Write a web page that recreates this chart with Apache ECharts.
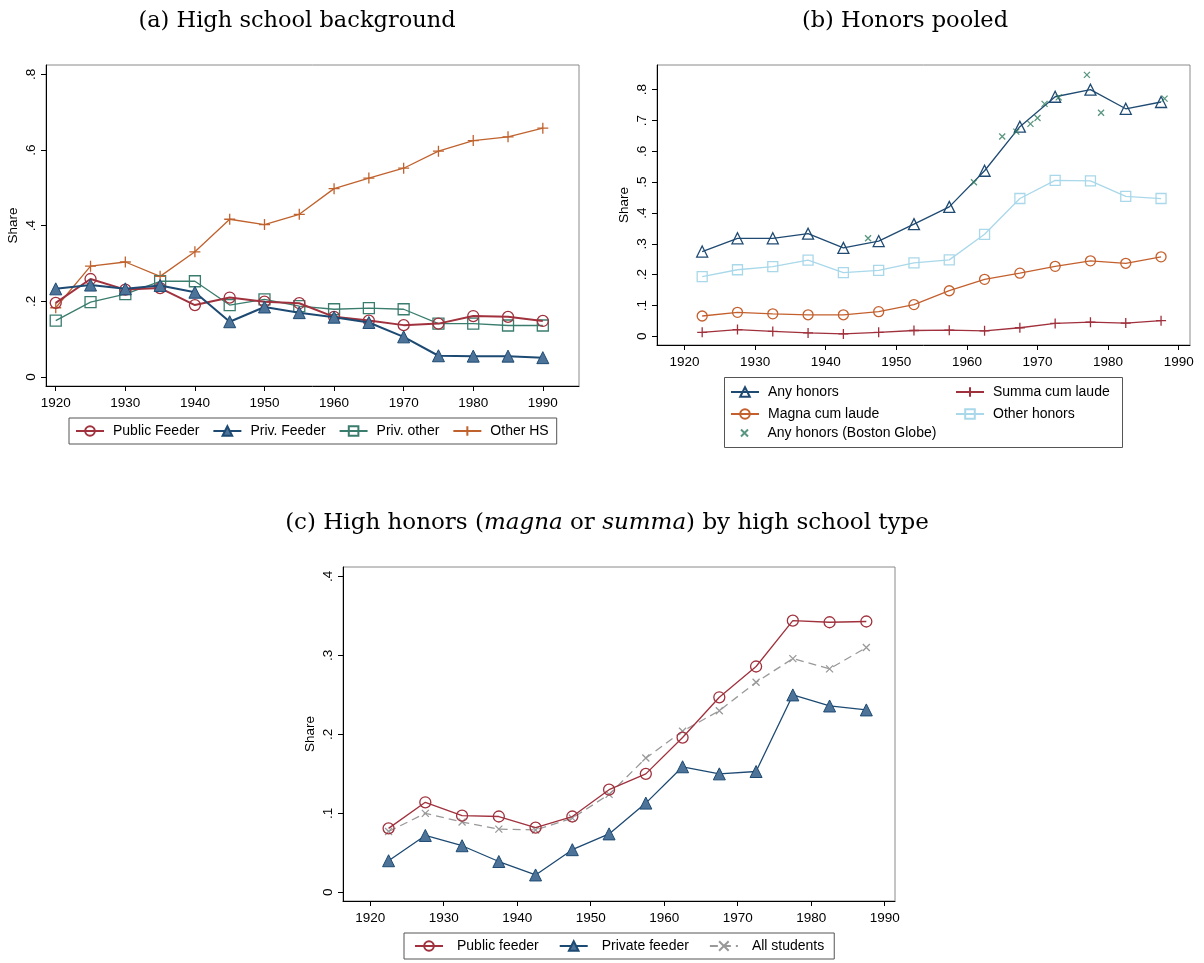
<!DOCTYPE html>
<html>
<head>
<meta charset="utf-8">
<script src="https://cdn.jsdelivr.net/npm/echarts@6/dist/echarts.min.js"></script>
<style>html,body{margin:0;padding:0;background:#fff}#c{width:1204px;height:963px}</style>
</head>
<body>
<div id="c"></div>
<script>
// ---------- Panel (a) High school background ----------
const yearsA = [1920,1925,1930,1935,1940,1945,1950,1955,1960,1965,1970,1975,1980,1985,1990];
const publicFeederA = [0.196,0.259,0.231,0.235,0.190,0.210,0.199,0.195,0.159,0.149,0.137,0.141,0.161,0.159,0.148];
const privFeederA   = [0.233,0.243,0.233,0.242,0.224,0.146,0.185,0.170,0.158,0.144,0.106,0.056,0.055,0.055,0.051];
const privOtherA    = [0.149,0.198,0.219,0.253,0.253,0.190,0.205,0.187,0.179,0.182,0.179,0.141,0.141,0.136,0.136];
const otherHSA      = [0.183,0.293,0.304,0.266,0.331,0.417,0.403,0.430,0.498,0.526,0.552,0.597,0.625,0.635,0.658];

// ---------- Panel (b) Honors pooled ----------
const yearsB = [1922.5,1927.5,1932.5,1937.5,1942.5,1947.5,1952.5,1957.5,1962.5,1967.5,1972.5,1977.5,1982.5,1987.5];
const anyHonorsB   = [0.275,0.318,0.318,0.333,0.287,0.309,0.364,0.420,0.537,0.680,0.777,0.800,0.738,0.760];
const otherHonorsB = [0.194,0.216,0.226,0.247,0.207,0.214,0.238,0.248,0.331,0.447,0.506,0.504,0.454,0.447];
const magnaB       = [0.066,0.078,0.073,0.070,0.070,0.080,0.103,0.148,0.185,0.205,0.227,0.245,0.237,0.258];
const summaB       = [0.013,0.022,0.016,0.011,0.008,0.013,0.019,0.020,0.018,0.028,0.042,0.046,0.043,0.051];
const globeYearsB  = [1946,1961,1965,1967,1969,1970,1971,1973,1977,1979,1988];
const globeB       = [0.318,0.500,0.648,0.664,0.689,0.708,0.754,0.775,0.848,0.725,0.771];

// ---------- Panel (c) High honors by high school type ----------
const yearsC = [1922.5,1927.5,1932.5,1937.5,1942.5,1947.5,1952.5,1957.5,1962.5,1967.5,1972.5,1977.5,1982.5,1987.5];
const publicFeederC = [0.081,0.114,0.097,0.096,0.082,0.096,0.130,0.150,0.196,0.247,0.286,0.344,0.342,0.343];
const privateFeederC= [0.040,0.072,0.059,0.039,0.022,0.054,0.074,0.113,0.159,0.150,0.153,0.250,0.236,0.231];
const allStudentsC  = [0.077,0.100,0.089,0.080,0.079,0.094,0.124,0.170,0.204,0.230,0.266,0.296,0.283,0.310];

const xTicks = [1920,1930,1940,1950,1960,1970,1980,1990];
const yTicksA = [0,0.2,0.4,0.6,0.8];
const yTicksB = [0,0.1,0.2,0.3,0.4,0.5,0.6,0.7,0.8];
const yTicksC = [0,0.1,0.2,0.3,0.4];

const zip = (xs, ys) => xs.map((x, i) => [x, ys[i]]);
const FONT = '"Liberation Sans", Arial, sans-serif';
const SERIF = '"DejaVu Serif", "Liberation Serif", serif';
const fmtY = v => (Math.abs(v) < 1e-9 ? '0' : String(+v.toFixed(2)).replace(/^0/, ''));
const fmtX = v => String(Math.round(v));

const PLUS = 'path://M0,5L10,5M5,0L5,10';
const CROSS = 'path://M0,0L10,10M10,0L0,10';

function xAxis(gi, min, max) {
  return {
    gridIndex: gi, type: 'value', min: min, max: max,
    axisLine: { onZero: false, lineStyle: { color: '#000', width: 1 } },
    axisTick: { customValues: xTicks, length: 5, lineStyle: { color: '#000' } },
    axisLabel: { customValues: xTicks, formatter: fmtX, color: '#000', fontFamily: FONT, fontSize: 13.5, margin: 10 },
    splitLine: { show: false }
  };
}
function yAxis(gi, min, max, ticks) {
  return {
    gridIndex: gi, type: 'value', min: min, max: max,
    name: 'Share', nameLocation: 'middle', nameRotate: 90, nameGap: 26,
    nameTextStyle: { color: '#000', fontFamily: FONT, fontSize: 13.5 },
    axisLine: { onZero: false, lineStyle: { color: '#000', width: 1 } },
    axisTick: { customValues: ticks, length: 5, lineStyle: { color: '#000' } },
    axisLabel: { customValues: ticks, rotate: 90, formatter: fmtY, color: '#000', fontFamily: FONT, fontSize: 13.5, margin: 8 },
    splitLine: { show: false }
  };
}
function lineSeries(name, gi, xs, ys, o) {
  return {
    name: name, type: 'line', xAxisIndex: gi, yAxisIndex: gi, data: zip(xs, ys),
    symbol: o.symbol, symbolSize: o.size, showAllSymbol: true, animation: false,
    lineStyle: { color: o.line, width: o.width, type: o.dash || 'solid' },
    itemStyle: { color: o.fill, borderColor: o.stroke, borderWidth: o.bw },
    emphasis: { disabled: true }, z: o.z || 2
  };
}
const NONE = 'rgba(255,255,255,0)';

const legendText = { color: '#000', fontFamily: FONT, fontSize: 14, padding: [0, 0, 0, 4] };

const option = {
  animation: false,
  backgroundColor: '#fff',
  title: [
    { text: '(a) High school background', left: 292, top: 5, textAlign: 'center',
      textStyle: { fontFamily: SERIF, fontSize: 22.5, fontWeight: 'normal', color: '#000' } },
    { text: '(b) Honors pooled', left: 900, top: 5, textAlign: 'center',
      textStyle: { fontFamily: SERIF, fontSize: 22.5, fontWeight: 'normal', color: '#000' } },
    { text: '(c) High honors ({i|magna} or {i|summa}) by high school type', left: 602, top: 507, textAlign: 'center',
      textStyle: { fontFamily: SERIF, fontSize: 23, fontWeight: 'normal', color: '#000',
        rich: { i: { fontFamily: SERIF, fontSize: 23, fontStyle: 'italic', color: '#000' } } } }
  ],
  grid: [
    { left: 46, top: 65, width: 533, height: 321, show: true, borderColor: '#8a8a8a', borderWidth: 1, backgroundColor: '#fff', containLabel: false },
    { left: 657, top: 65, width: 533, height: 280, show: true, borderColor: '#8a8a8a', borderWidth: 1, backgroundColor: '#fff', containLabel: false },
    { left: 343, top: 567, width: 552, height: 334, show: true, borderColor: '#8a8a8a', borderWidth: 1, backgroundColor: '#fff', containLabel: false }
  ],
  xAxis: [ xAxis(0, 1918.6, 1995.2), xAxis(1, 1916.1, 1991.6), xAxis(2, 1916.3, 1991.4) ],
  yAxis: [ yAxis(0, -0.024, 0.825, yTicksA), yAxis(1, -0.028, 0.88, yTicksB), yAxis(2, -0.011, 0.412, yTicksC) ],
  legend: [
    { data: ['Public Feeder', 'Priv. Feeder', 'Priv. other', 'Other HS'], left: 69, top: 418,
      orient: 'horizontal', itemWidth: 28, itemHeight: 12, itemGap: 13, padding: [6, 8, 6, 6],
      borderColor: '#555', borderWidth: 1, textStyle: legendText },
    { data: ['Any honors', 'Magna cum laude'], left: 730, top: 385,
      orient: 'vertical', itemWidth: 28, itemHeight: 12, itemGap: 8, padding: 0, textStyle: legendText },
    { data: ['Any honors (Boston Globe)'], left: 740, top: 426,
      orient: 'vertical', itemWidth: 28, itemHeight: 7, itemGap: 8, padding: 0,
      textStyle: { color: '#000', fontFamily: FONT, fontSize: 14, padding: [0, 0, 0, 4] } },
    { data: ['Summa cum laude', 'Other honors'], left: 955, top: 385,
      orient: 'vertical', itemWidth: 28, itemHeight: 12, itemGap: 8, padding: 0, textStyle: legendText },
    { data: ['Public feeder', 'Private feeder', 'All students'], left: 404, top: 933,
      orient: 'horizontal', itemWidth: 28, itemHeight: 12, itemGap: 20, padding: [6, 10, 6, 10],
      borderColor: '#555', borderWidth: 1,
      textStyle: { color: '#000', fontFamily: FONT, fontSize: 14, padding: [0, 0, 0, 9] } }
  ],
  graphic: [
    { type: 'rect', shape: { x: 724.5, y: 377.5, width: 398, height: 70 },
      style: { fill: 'none', stroke: '#555', lineWidth: 1 }, silent: true }
  ],
  series: [
    // Panel a
    lineSeries('Public Feeder', 0, yearsA, publicFeederA, { symbol: 'circle', size: 11, line: '#a0313d', width: 2, fill: NONE, stroke: '#a0313d', bw: 1.3, z: 3 }),
    lineSeries('Priv. Feeder', 0, yearsA, privFeederA, { symbol: 'triangle', size: 12, line: '#1d4a73', width: 2, fill: '#4d7398', stroke: '#1d4a73', bw: 1, z: 4 }),
    lineSeries('Priv. other', 0, yearsA, privOtherA, { symbol: 'rect', size: 11, line: '#3a7d6e', width: 1.3, fill: NONE, stroke: '#3a7d6e', bw: 1.3, z: 2 }),
    lineSeries('Other HS', 0, yearsA, otherHSA, { symbol: PLUS, size: 11, line: '#c0622d', width: 1.3, fill: NONE, stroke: '#c0622d', bw: 1.3, z: 2 }),
    // Panel b
    lineSeries('Any honors', 1, yearsB, anyHonorsB, { symbol: 'triangle', size: 11, line: '#1f4a72', width: 1.3, fill: NONE, stroke: '#1f4a72', bw: 1.3, z: 3 }),
    lineSeries('Summa cum laude', 1, yearsB, summaB, { symbol: PLUS, size: 10, line: '#a0303c', width: 1.3, fill: NONE, stroke: '#a0303c', bw: 1.3 }),
    lineSeries('Magna cum laude', 1, yearsB, magnaB, { symbol: 'circle', size: 10, line: '#c4602e', width: 1.3, fill: NONE, stroke: '#c4602e', bw: 1.3 }),
    lineSeries('Other honors', 1, yearsB, otherHonorsB, { symbol: 'rect', size: 10, line: '#a9d8ea', width: 1.3, fill: NONE, stroke: '#a9d8ea', bw: 1.3 }),
    { name: 'Any honors (Boston Globe)', type: 'scatter', xAxisIndex: 1, yAxisIndex: 1, data: zip(globeYearsB, globeB),
      symbol: CROSS, symbolSize: 6, itemStyle: { color: NONE, borderColor: '#2f7a5f', borderWidth: 1.3 }, z: 5, emphasis: { disabled: true } },
    // Panel c
    lineSeries('Public feeder', 2, yearsC, publicFeederC, { symbol: 'circle', size: 11, line: '#a0313d', width: 1.3, fill: NONE, stroke: '#a0313d', bw: 1.3, z: 3 }),
    lineSeries('Private feeder', 2, yearsC, privateFeederC, { symbol: 'triangle', size: 12, line: '#1d4a73', width: 1.3, fill: '#4d7398', stroke: '#1d4a73', bw: 1, z: 4 }),
    lineSeries('All students', 2, yearsC, allStudentsC, { symbol: CROSS, size: 7, line: '#999999', width: 1.3, dash: [8, 5], fill: NONE, stroke: '#999999', bw: 1.3, z: 2 })
  ]
};

const chart = echarts.init(document.getElementById('c'), null, { renderer: 'canvas' });
chart.setOption(option);
</script>
</body>
</html>
